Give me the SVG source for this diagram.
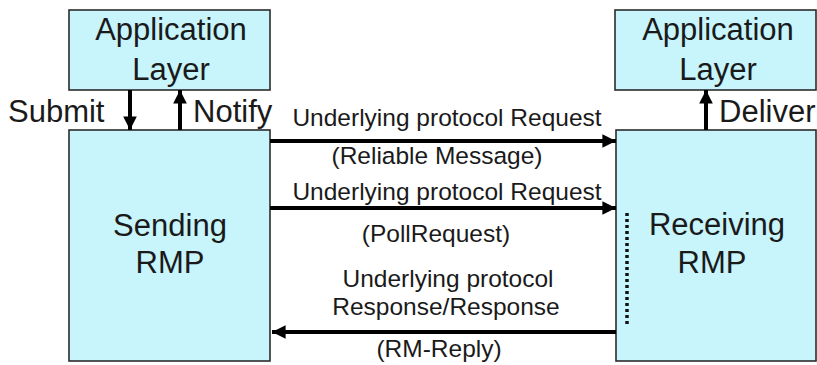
<svg xmlns="http://www.w3.org/2000/svg" width="817" height="365" viewBox="0 0 817 365">
  <style>
    .box { fill: #c8f4fc; stroke: #2b2b2b; stroke-width: 1.6; }
    .big { font-family: "Liberation Sans", Arial, sans-serif; font-size: 31px; fill: #1a1a1a; }
    .lbl { font-family: "Liberation Sans", Arial, sans-serif; font-size: 24.5px; fill: #1a1a1a; }
    .mid { text-anchor: middle; }
    .flow { stroke: #000; stroke-width: 4; fill: none; }
    .dots { stroke: #111; stroke-width: 3.5; stroke-dasharray: 3 3; fill: none; }
  </style>
  <defs>
    <marker id="head" viewBox="0 0 10 10" refX="10" refY="5" markerWidth="3.4" markerHeight="3.4" orient="auto" markerUnits="strokeWidth">
      <path d="M0,0 L10,5 L0,10 Z" fill="#000"/>
    </marker>
  </defs>
  <rect width="817" height="365" fill="#fff"/>

  <g id="app-layer-sender">
    <rect class="box" x="69" y="10" width="201" height="80"/>
    <text class="big mid" x="171" y="40">Application</text>
    <text class="big mid" x="171" y="80">Layer</text>
  </g>

  <g id="app-layer-receiver">
    <rect class="box" x="615" y="10" width="201" height="80"/>
    <text class="big mid" x="718" y="40">Application</text>
    <text class="big mid" x="718" y="80">Layer</text>
  </g>

  <g id="sending-rmp">
    <rect class="box" x="69" y="130" width="201" height="231"/>
    <text class="big mid" x="170" y="236">Sending</text>
    <text class="big mid" x="170" y="273">RMP</text>
  </g>

  <g id="receiving-rmp">
    <rect class="box" x="616" y="130" width="200" height="231"/>
    <text class="big mid" x="717" y="235">Receiving</text>
    <text class="big mid" x="712" y="273">RMP</text>
  </g>

  <g id="connectors">
    <!-- Submit / Notify / Deliver -->
    <line class="flow" x1="130" y1="90" x2="130" y2="130" marker-end="url(#head)"/>
    <line class="flow" x1="180" y1="130" x2="180" y2="90" marker-end="url(#head)"/>
    <line class="flow" x1="706" y1="130" x2="706" y2="90" marker-end="url(#head)"/>
    <!-- protocol messages -->
    <line class="flow" x1="270" y1="141" x2="616" y2="141" marker-end="url(#head)"/>
    <line class="flow" x1="270" y1="208" x2="616" y2="208" marker-end="url(#head)"/>
    <line class="flow" x1="616" y1="332" x2="272" y2="332" marker-end="url(#head)"/>
    <!-- hold between poll request and reply -->
    <line class="dots" x1="627" y1="213" x2="627" y2="327"/>
  </g>

  <g id="labels">
    <text class="big" x="8" y="122">Submit</text>
    <text class="big" x="193" y="122">Notify</text>
    <text class="big" x="719" y="122">Deliver</text>
    <text class="lbl mid" x="447" y="126">Underlying protocol Request</text>
    <text class="lbl mid" x="437" y="164">(Reliable Message)</text>
    <text class="lbl mid" x="447" y="200">Underlying protocol Request</text>
    <text class="lbl mid" x="436" y="242">(PollRequest)</text>
    <text class="lbl mid" x="448" y="287">Underlying protocol</text>
    <text class="lbl mid" x="446" y="315">Response/Response</text>
    <text class="lbl mid" x="439" y="357">(RM-Reply)</text>
  </g>
</svg>
